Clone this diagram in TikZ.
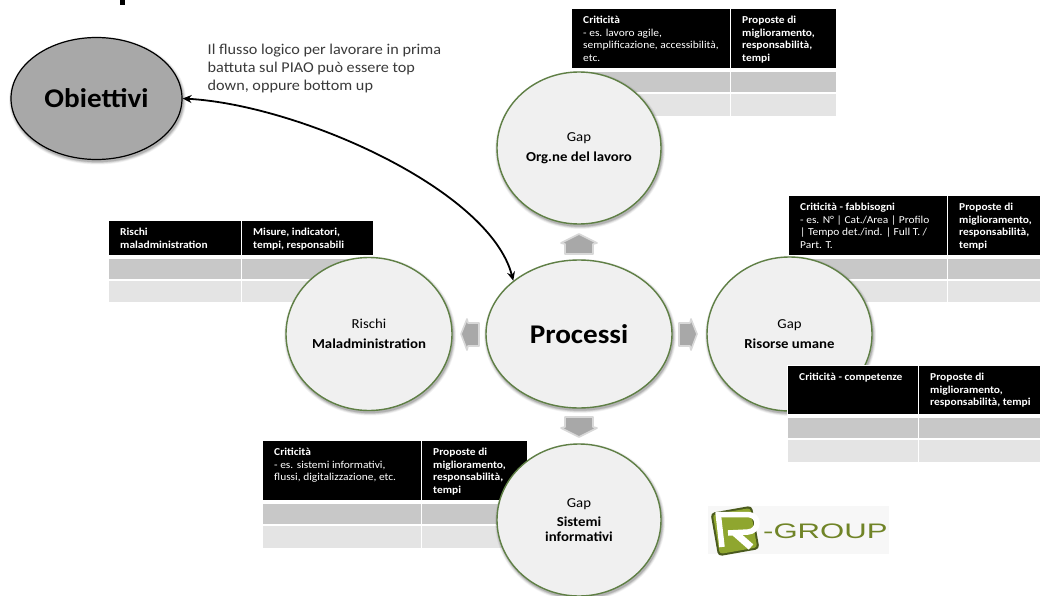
\documentclass[tikz,border=0pt]{standalone}
\usepackage{fontspec}
\setmainfont{Carlito}[FakeStretch=1.08]
\newfontfamily\logofont{Liberation Sans}[FakeStretch=1.48]
\usetikzlibrary{shapes.geometric,arrows.meta}
\definecolor{ringgreen}{HTML}{5F7F45}
\definecolor{discfill}{HTML}{F0F0F0}
\definecolor{rowa}{HTML}{C8C8C8}
\definecolor{rowb}{HTML}{E4E4E4}
\definecolor{blockgrey}{HTML}{A8A8A8}
\definecolor{logogreen}{HTML}{8FA62F}
\definecolor{logodark}{HTML}{4A5A1E}
\definecolor{bodytext}{HTML}{3A3A3A}
\tikzset{
  disc/.style={ellipse,draw=ringgreen,line width=1.4pt,fill=discfill,inner sep=0pt,align=center,text=black,font=\fontsize{13.7}{14.5}\selectfont},
  headcell/.style={anchor=north west,fill=black,draw=none,inner sep=0pt},
  headtext/.style={anchor=north west,inner sep=0pt,text=white,align=left,font=\fontsize{10.6}{12.9}\selectfont},
  rowcella/.style={anchor=north west,fill=rowa,draw=none,inner sep=0pt},
  rowcellb/.style={anchor=north west,fill=rowb,draw=none,inner sep=0pt},
  blockarrow/.style={fill=blockgrey,draw=blockgrey!45,line width=1.6pt,line join=round},
  flow/.style={draw=black,line width=1.8pt,{Stealth[length=9pt,width=8pt]}-{Stealth[length=9pt,width=8pt]}},
}
\newcommand{\softshade}[4]{%
  \foreach \g/\o in {3/.05,2.2/.07,1.4/.09,.7/.12}{%
    \fill[black,opacity=\o] (#1+1,#2+2) ellipse [x radius=#3+\g,y radius=#4+\g];}}
\newcommand{\headcell}[6]{%
  \node[headcell,minimum width=#4pt-#2pt,minimum height=#5pt-#3pt] (#1) at (#2,#3) {};
  \node[headtext] at (#2+11,#3+6.5) {#6};}
\newcommand{\bodycell}[6]{%
  \node[#6,minimum width=#4pt-#2pt,minimum height=#5pt-#3pt] (#1) at (#2,#3) {};}
\begin{document}
\begin{tikzpicture}[x=1pt,y=-1pt]
\useasboundingbox (0,0) rectangle (1040,596);
\fill[white] (0,0) rectangle (1040,596);
\fill[black] (120,0) rectangle (125,5.5);

% Rischi table
\headcell{ra}{109}{221}{240.5}{255}{\textbf{Rischi}\\\textbf{maladministration}}
\headcell{rb}{242}{221}{373}{255}{\textbf{Misure, indicatori,}\\\textbf{tempi, responsabili}}
\bodycell{rc}{109}{259}{240.5}{279}{rowcella}
\bodycell{rd}{242}{259}{373}{279}{rowcella}
\bodycell{re}{109}{281}{240.5}{302}{rowcellb}
\bodycell{rf}{242}{281}{373}{302}{rowcellb}
% Org table
\headcell{oa}{572}{9}{729.5}{68}{\textbf{Criticità}\\- es. lavoro agile,\\semplificazione, accessibilità,\\etc.}
\headcell{ob}{731}{9}{836}{68}{\textbf{Proposte di}\\\textbf{miglioramento,}\\\textbf{responsabilità,}\\\textbf{tempi}}
\bodycell{oc}{572}{72}{729.5}{92}{rowcella}
\bodycell{od}{731}{72}{836}{92}{rowcella}
\bodycell{oe}{572}{94}{729.5}{116}{rowcellb}
\bodycell{of}{731}{94}{836}{116}{rowcellb}
% Risorse fabbisogni table
\headcell{fa}{789}{196}{946.5}{255}{\textbf{Criticità - fabbisogni}\\- es. N° | Cat./Area | Profilo\\| Tempo det./ind. | Full T. /\\Part. T.}
\headcell{fb}{948}{196}{1040}{255}{\textbf{Proposte di}\\\textbf{miglioramento,}\\\textbf{responsabilità,}\\\textbf{tempi}}
\bodycell{fc}{789}{259}{946.5}{279}{rowcella}
\bodycell{fd}{948}{259}{1040}{279}{rowcella}
\bodycell{fe}{789}{281}{946.5}{302}{rowcellb}
\bodycell{ff}{948}{281}{1040}{302}{rowcellb}
% Sistemi table
\headcell{sa}{263}{441}{420.5}{500}{\textbf{Criticità}\\- es. sistemi informativi,\\flussi, digitalizzazione, etc.}
\headcell{sb}{422}{441}{527}{500}{\textbf{Proposte di}\\\textbf{miglioramento,}\\\textbf{responsabilità,}\\\textbf{tempi}}
\bodycell{sc}{263}{504}{420.5}{524}{rowcella}
\bodycell{sd}{422}{504}{527}{524}{rowcella}
\bodycell{se}{263}{526}{420.5}{548}{rowcellb}
\bodycell{sf}{422}{526}{527}{548}{rowcellb}

% Block arrows
\path[blockarrow] (579,234) -- (597,243) -- (593,244) -- (593,254) -- (565,254) -- (565,244) -- (561,243) -- cycle;
\path[blockarrow] (579,437) -- (597,428) -- (593,427) -- (593,417) -- (565,417) -- (565,427) -- (561,428) -- cycle;
\path[blockarrow] (461,334) -- (467,319) -- (468,323) -- (479,323) -- (479,346) -- (468,346) -- (467,350) -- cycle;
\path[blockarrow] (697,334) -- (691,319) -- (690,323) -- (679,323) -- (679,346) -- (690,346) -- (691,350) -- cycle;

% Discs
\softshade{96.5}{98.5}{85.5}{61}
\node[ellipse,draw=black,line width=1.2pt,fill=blockgrey,minimum width=171pt,minimum height=122pt,inner sep=0pt,font=\fontsize{27}{30}\selectfont\bfseries] (obj) at (96.5,98.5) {Obiettivi};
\softshade{579}{148}{82}{76}
\node[disc,minimum width=164pt,minimum height=152pt] (org) at (579,148) {Gap\\[5pt]\textbf{Org.ne del lavoro}};
\softshade{369}{334}{83}{76.5}
\node[disc,minimum width=166pt,minimum height=153pt] (ris) at (369,334) {Rischi\\[5pt]\textbf{Maladministration}};
\softshade{579}{334}{93}{74}
\node[disc,minimum width=186pt,minimum height=148pt,font=\fontsize{27}{30}\selectfont\bfseries] (proc) at (579,334) {Processi};
\softshade{789.5}{334}{82.5}{77}
\node[disc,minimum width=165pt,minimum height=154pt] (hr) at (789.5,334) {Gap\\[5pt]\textbf{Risorse umane}};
\softshade{579}{520}{82}{76}
\node[disc,minimum width=164pt,minimum height=152pt] (sys) at (579,520) {Gap\\[5pt]\textbf{Sistemi}\\\textbf{informativi}};

% Risorse competenze table (on top of the disc)
\fill[white] (786.5,364.5) rectangle (1040,416);
\headcell{ca}{788}{366}{917.5}{414}{\textbf{Criticità - competenze}}
\headcell{cb}{919}{366}{1040}{414}{\textbf{Proposte di}\\\textbf{miglioramento,}\\\textbf{responsabilità, tempi}}
\bodycell{cc}{788}{418}{917.5}{438}{rowcella}
\bodycell{cd}{919}{418}{1040}{438}{rowcella}
\bodycell{ce}{788}{440}{917.5}{462}{rowcellb}
\bodycell{cf}{919}{440}{1040}{462}{rowcellb}

% Flow connector
\draw[flow] (obj.east) .. controls (300,105) and (490,190) .. (proc.141);

% Note
\node[anchor=north west,inner sep=0pt,align=left,text=bodytext,font=\fontsize{15}{18.2}\selectfont] (note) at (207.5,43.5) {Il flusso logico per lavorare in prima\\battuta sul PIAO può essere top\\down, oppure bottom up};

% Logo
\fill[white!97!black] (708,506) rectangle (889,554);
\begin{scope}[shift={(735,531)},rotate=10]
  \fill[logodark,rounded corners=4pt] (-21,-22) rectangle (21,22);
  \fill[logogreen,rounded corners=3pt] (-19,-20) rectangle (19,20);
\end{scope}
\draw[white,line width=5.5pt,line join=round] (718,512) -- (722,547);
\draw[white,line width=5.5pt,line join=round] (716,514.5) -- (748,514.5) .. controls (760,515) and (760,531) .. (748,532) -- (728,533);
\draw[white,line width=7pt] (735,533) -- (751,547);
\node[anchor=west,inner sep=0pt,text=logogreen!55!logodark,font=\logofont\fontsize{21}{24}\selectfont] (logo) at (763,531) {-GROUP};
\end{tikzpicture}
\end{document}
